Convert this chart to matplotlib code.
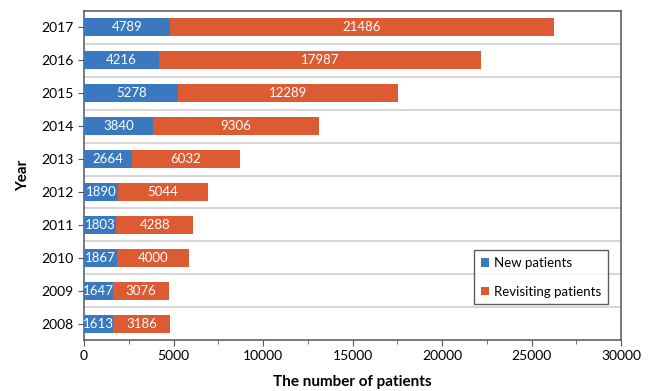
import numpy as np
import matplotlib.pyplot as plt
from matplotlib.ticker import MultipleLocator

plt.rcParams['font.family'] = ['Lato', 'DejaVu Sans']

years = ['2008', '2009', '2010', '2011', '2012', '2013', '2014', '2015', '2016', '2017']
new_patients = [1613, 1647, 1867, 1803, 1890, 2664, 3840, 5278, 4216, 4789]
revisiting = [3186, 3076, 4000, 4288, 5044, 6032, 9306, 12289, 17987, 21486]

blue = '#3a78bf'
orange = '#dd5b33'

fig = plt.figure(figsize=(6.52, 3.91), dpi=100)
ax = fig.add_axes([84 / 652, 51 / 391, 537 / 652, 329 / 391])

y = np.arange(len(years))
b1 = ax.barh(y, new_patients, height=0.55, color=blue, label='New patients', zorder=3)
b2 = ax.barh(y, revisiting, left=new_patients, height=0.55, color=orange,
             label='Revisiting patients', zorder=3)

for bars in (b1, b2):
    for rect in bars:
        w = rect.get_width()
        ax.text(rect.get_x() + w / 2, rect.get_y() + rect.get_height() / 2,
                f'{w:.0f}', ha='center', va='center', color='white', fontsize=9.5, zorder=4)

# separators between year bands
for yy in y[:-1] + 0.5:
    ax.axhline(yy, color='#d0d0d0', lw=1.2, zorder=1)

ax.set_xlim(0, 30000)
ax.set_ylim(-0.5, len(years) - 0.5)
ax.set_yticks(y)
ax.set_yticklabels(years)
ax.xaxis.set_major_locator(MultipleLocator(5000))
ax.xaxis.set_minor_locator(MultipleLocator(2500))
ax.tick_params(axis='both', labelsize=10, color='#555555', length=4)
ax.tick_params(axis='x', which='minor', length=3, color='#555555')

for side in ['left', 'bottom', 'top', 'right']:
    ax.spines[side].set_color('#555555')
    ax.spines[side].set_linewidth(1.1)

ax.set_xlabel('The number of patients', fontsize=11, fontweight='bold', labelpad=9)
ax.set_ylabel('Year', fontsize=11, fontweight='bold', labelpad=8)

leg = ax.legend(loc='lower right', bbox_to_anchor=(0.976, 0.109), borderaxespad=0,
                fontsize=9.5, frameon=True, fancybox=False, edgecolor='#333333',
                labelspacing=1.25, handlelength=0.6, handleheight=0.6,
                handletextpad=0.4, borderpad=0.5)
leg.get_frame().set_linewidth(1.0)

fig.savefig('out.png', dpi=100)
